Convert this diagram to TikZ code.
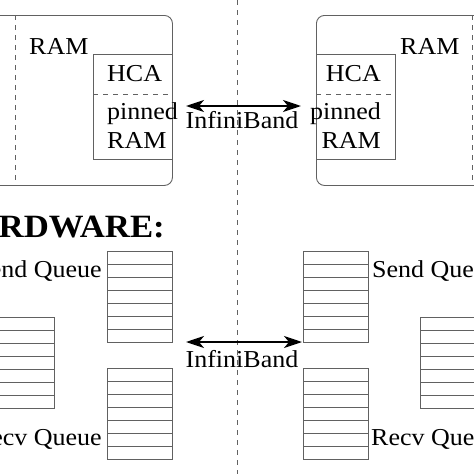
\documentclass[tikz,border=0pt]{standalone}
\usepackage{fontspec}
\setmainfont{Liberation Serif}[FakeStretch=1.07]
\usetikzlibrary{arrows.meta,calc}
\begin{document}
\begin{tikzpicture}[x=1pt,y=-1pt,
  line/.style={draw=black!62, line width=0.9pt},
  dline/.style={draw=black!62, line width=0.9pt, dash pattern=on 5pt off 5pt},
  lbl/.style={inner sep=0pt, font=\fontsize{24.3}{28}\selectfont},
  big/.style={inner sep=0pt, font=\fontsize{32.5}{36}\bfseries\selectfont},
  link/.style={black, line width=2pt, {Stealth[length=18pt,width=12pt,inset=5pt]}-{Stealth[length=18pt,width=12pt,inset=5pt]}},
  hbox/.style={line, minimum width=79pt, minimum height=105pt, anchor=north west, inner sep=0pt},
  stackbox/.style={line, minimum width=65pt, minimum height=91pt, anchor=north west, inner sep=0pt},
]
\useasboundingbox (0,0) rectangle (474,474);
% centre divider
\draw[dline] (237,0) -- (237,474);

% ---- top left host ----
\node[line, rounded corners=8pt, minimum width=192pt, minimum height=170pt, anchor=north west, inner sep=0pt] (lhost) at (-20,15) {};
\draw[dline] (15,15) -- (15,185);
\node[lbl, anchor=base west] (lram) at (29,54) {RAM};
\node[hbox] (lhca) at (93,54) {};
\draw[dline] (93,94) -- (172,94);
\node[lbl, anchor=base west] (lhcat) at (107,81) {HCA};
\node[lbl, anchor=base west] (lpin) at (107,119) {pinned};
\node[lbl, anchor=base west] (lpram) at (107,148) {RAM};

% ---- top right host ----
\node[line, rounded corners=8pt, minimum width=192pt, minimum height=170pt, anchor=north west, inner sep=0pt] (rhost) at (316,15) {};
\draw[dline] (472,15) -- (472,185);
\node[lbl, anchor=base west] (rram) at (400,54) {RAM};
\node[hbox] (rhca) at (316,54) {};
\draw[dline] (316,94) -- (395,94);
\node[lbl, anchor=base east] (rhcat) at (381,81) {HCA};
\node[lbl, anchor=base east] (rpin) at (381,119) {pinned};
\node[lbl, anchor=base east] (rpram) at (381,148) {RAM};

% top link
\coordinate (t1) at (186,106);
\coordinate (t2) at (301,106);
\draw[link] (t1) -- (t2);
\node[lbl, anchor=base] (tib) at (242,128) {InfiniBand};

% ---- bottom ----
\node[big, anchor=base east] (hw) at (165,237) {HARDWARE:};

\node[stackbox] (lsq) at (107,251) {};
\node[stackbox] (lmq) at (-11,317) {};
\node[stackbox] (lrq) at (107,368) {};
\node[stackbox] (rsq) at (303,251) {};
\node[stackbox] (rmq) at (420,317) {};
\node[stackbox] (rrq) at (303,368) {};
\foreach \s in {lsq,lmq,lrq,rsq,rmq,rrq}{
  \foreach \k in {1,...,6}{
    \draw[line] ($(\s.north west)!\k/7!(\s.south west)$) -- ($(\s.north east)!\k/7!(\s.south east)$);
  }
}

\node[lbl, anchor=base east] (lsend) at (102,277) {Send Queue};
\node[lbl, anchor=base east] (lrecv) at (102,445) {Recv Queue};
\node[lbl, anchor=base west] (rsend) at (372,277) {Send Queue};
\node[lbl, anchor=base west] (rrecv) at (371,445) {Recv Queue};

% bottom link
\coordinate (b1) at (186,342);
\coordinate (b2) at (302,342);
\draw[link] (b1) -- (b2);
\node[lbl, anchor=base] (bib) at (242,367) {InfiniBand};
\end{tikzpicture}
\end{document}
